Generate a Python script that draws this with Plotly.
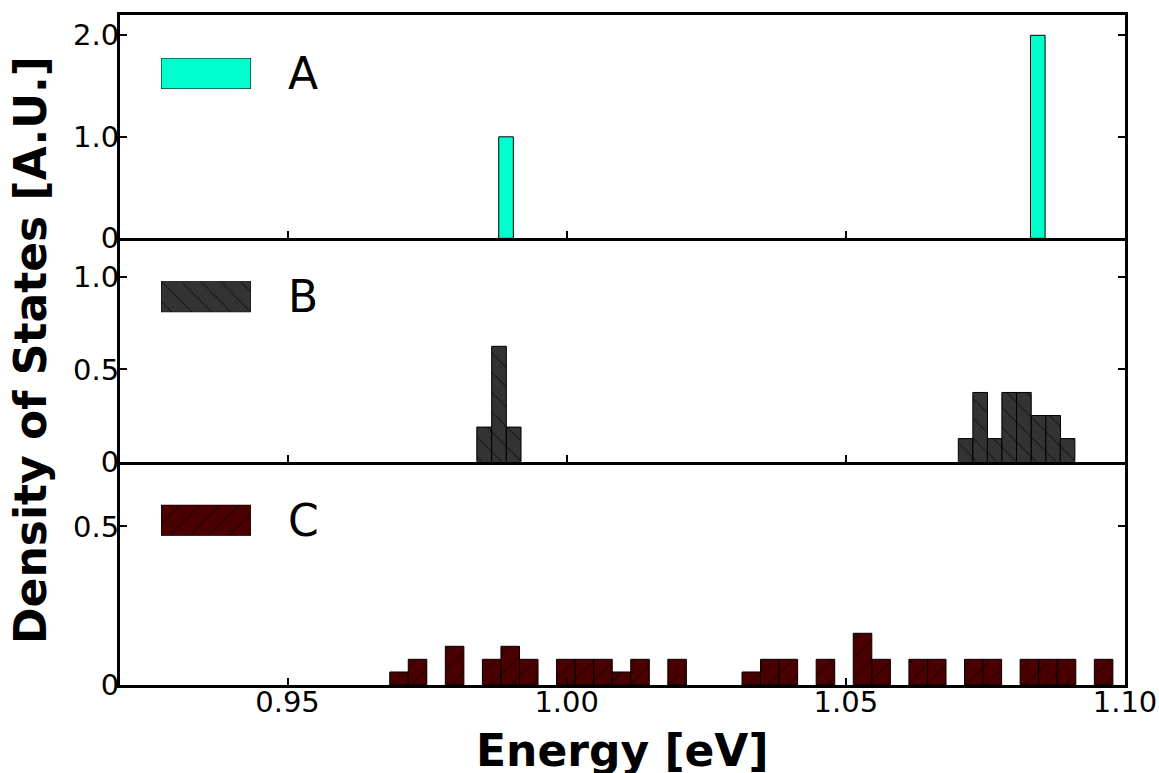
import plotly.graph_objects as go

# ---------------- data ----------------
a_energy = [0.98914, 1.08438]
a_dos = [1.0, 2.0]
a_binwidth = 0.00262

b_energy = [0.98522, 0.98788, 0.99051,
            1.07146, 1.07406, 1.07666, 1.07926, 1.08189, 1.08453, 1.08714, 1.08971]
b_dos = [0.1875, 0.625, 0.1875,
         0.125, 0.375, 0.125, 0.375, 0.375, 0.25, 0.25, 0.125]
b_binwidth = 0.00263

c_energy = [0.96997, 0.97329, 0.97993, 0.98657, 0.98989, 0.99321, 0.99985,
            1.00318, 1.00650, 1.00982, 1.01314, 1.01978, 1.03307, 1.03639,
            1.03971, 1.04635, 1.05299, 1.05632, 1.06296, 1.06628, 1.07292,
            1.07624, 1.08288, 1.08621, 1.08953, 1.09617]
c_dos = [0.041, 0.081, 0.122, 0.081, 0.122, 0.081, 0.081, 0.081, 0.081, 0.041,
         0.081, 0.081, 0.041, 0.081, 0.081, 0.081, 0.163, 0.081, 0.081, 0.081,
         0.081, 0.081, 0.081, 0.081, 0.081, 0.081]
c_binwidth = 0.003321

series_names = ["A", "B", "C"]
x_tickvals = [0.95, 1.00, 1.05, 1.10]
x_ticktext = ["0.95", "1.00", "1.05", "1.10"]
a_tickvals = [0, 1.0, 2.0]
a_ticktext = ["0", "1.0", "2.0"]
b_tickvals = [0, 0.5, 1.0]
b_ticktext = ["0", "0.5", "1.0"]
c_tickvals = [0, 0.5]
c_ticktext = ["0", "0.5"]

# ---------------- styles ----------------
FONT = "DejaVu Sans"
colors = ["#00ffcc", "#333333", "#4a0000"]
patterns = ["", "\\", "/"]


def marker_for(i):
    m = dict(color=colors[i], line=dict(color="black", width=1))
    if patterns[i]:
        m["pattern"] = dict(shape=patterns[i], fillmode="overlay", fgcolor="black",
                            bgcolor=colors[i], size=14, solidity=0.08)
    return m


fig = go.Figure()

H = 1 / 3
datasets = [
    (a_energy, a_dos, a_binwidth),
    (b_energy, b_dos, b_binwidth),
    (c_energy, c_dos, c_binwidth),
]
xaxes = ["x", "x2", "x3"]
yaxes = ["y", "y2", "y3"]
for i, (xe, yd, w) in enumerate(datasets):
    fig.add_trace(go.Bar(x=xe, y=yd, width=[w] * len(xe), marker=marker_for(i),
                         xaxis=xaxes[i], yaxis=yaxes[i], showlegend=False,
                         name=series_names[i]))

# legend swatches, drawn on small hidden axes
swatch_x = [0.0408, 0.1303]
swatch_y0 = [0.8896, 0.9358]
for i in range(3):
    k = i + 4
    fig.add_trace(go.Bar(x=[0.5], y=[1], width=[1], marker=marker_for(i),
                         xaxis=f"x{k}", yaxis=f"y{k}", showlegend=False,
                         hoverinfo="skip"))
    fig.layout[f"xaxis{k}"] = dict(domain=swatch_x, range=[0, 1], visible=False,
                                   anchor=f"y{k}", fixedrange=True)
    fig.layout[f"yaxis{k}"] = dict(domain=[swatch_y0[0] - i * H, swatch_y0[1] - i * H],
                                   range=[0, 1], visible=False, anchor=f"x{k}",
                                   fixedrange=True)
    fig.add_annotation(text=series_names[i], x=0.165, y=0.9127 - i * H,
                       xref="paper", yref="paper", xanchor="left", yanchor="middle",
                       showarrow=False, font=dict(family=FONT, size=44, color="black"))

base_axis = dict(showline=True, linecolor="black", linewidth=3,
                 ticks="inside", ticklen=7, tickwidth=2, tickcolor="black",
                 showgrid=False, zeroline=False, automargin=False,
                 tickfont=dict(family=FONT, size=29, color="black"))

y_specs = [([2 * H, 1], [0, 2.2], a_tickvals, a_ticktext),
           ([H, 2 * H], [0, 1.21], b_tickvals, b_ticktext),
           ([0, H], [0, 0.704], c_tickvals, c_ticktext)]

layout_axes = {}
for i in range(3):
    xname = "xaxis" if i == 0 else f"xaxis{i + 1}"
    yname = "yaxis" if i == 0 else f"yaxis{i + 1}"
    xd = dict(range=[0.92, 1.10], anchor=yaxes[i], tickvals=x_tickvals,
              ticktext=x_ticktext, showticklabels=(i == 2),
              mirror=(i == 0), ticklabelstandoff=-11, **base_axis)
    if i > 0:
        xd["matches"] = "x"
    layout_axes[xname] = xd
    dom, rng, tv, tt = y_specs[i]
    layout_axes[yname] = dict(domain=dom, range=rng, anchor=xaxes[i], mirror="ticks",
                              tickvals=tv, ticktext=tt, ticklabelstandoff=-8,
                              **base_axis)

fig.update_layout(
    width=1159, height=773,
    margin=dict(l=120, r=34, t=15, b=88),
    paper_bgcolor="white", plot_bgcolor="white",
    barmode="overlay",
    font=dict(family=FONT, color="black"),
    **layout_axes,
)

fig.add_annotation(text="<b>Energy [eV]</b>", x=0.5, y=-0.098, xref="paper", yref="paper",
                   xanchor="center", yanchor="middle", showarrow=False,
                   font=dict(family=FONT, size=44, color="black"))
fig.add_annotation(text="<b>Density of States [A.U.]</b>", x=-0.0896, y=0.5,
                   xref="paper", yref="paper", xanchor="center", yanchor="middle",
                   textangle=-90, showarrow=False,
                   font=dict(family=FONT, size=44, color="black"))

fig.write_html(
    "out.html",
    config={"displayModeBar": False},
    post_script=("document.body.style.margin='0';"
                 "document.body.style.overflow='hidden';"
                 "document.documentElement.style.overflow='hidden';"),
)
